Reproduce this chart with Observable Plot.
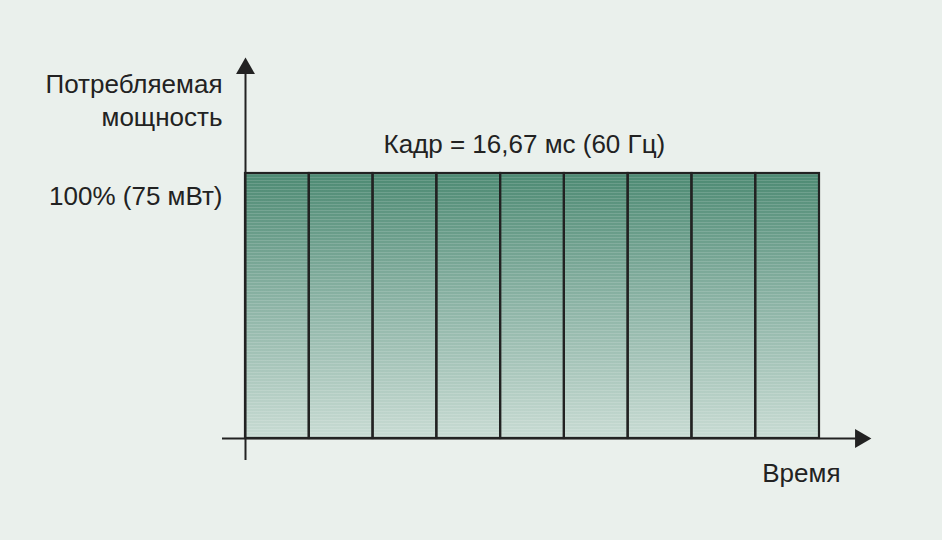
<!DOCTYPE html>
<html>
<head>
<meta charset="utf-8">
<script src="https://cdn.jsdelivr.net/npm/d3@7"></script>
<script src="https://cdn.jsdelivr.net/npm/@observablehq/plot@0.6"></script>
<style>
  html, body { margin: 0; padding: 0; background: #eaf0ec; }
  #chart { width: 942px; height: 540px; }
</style>
</head>
<body>
<div id="chart"></div>
<script>
// ---- data ----
const frameIndex = [0, 1, 2, 3, 4, 5, 6, 7, 8];
const powerPct = [100, 100, 100, 100, 100, 100, 100, 100, 100];
const yTickValues = [100];
const yTickLabels = ["100% (75 мВт)"];
const titleText = "Кадр = 16,67 мс (60 Гц)";
const yLabelText = "Потребляемая\nмощность";
const xLabelText = "Время";

const frames = frameIndex.map((f, k) => ({x1: f, x2: f + 1, y: powerPct[k]}));
const ticks = yTickValues.map((v, k) => ({y: v, label: yTickLabels[k]}));

const ink = "#222222";
const fs = 26;

const chart = Plot.plot({
  width: 942,
  height: 540,
  marginTop: 68,
  marginBottom: 80,
  marginLeft: 222,
  marginRight: 82,
  style: {background: "#eaf0ec", fontFamily: "'Liberation Sans', Arial, sans-serif", fontSize: fs + "px", color: ink},
  x: {domain: [0, frameIndex.length], range: [245, 819], axis: null},
  y: {domain: [0, 100], range: [438, 173], axis: null},
  marks: [
    Plot.rectY(frames, {x1: "x1", x2: "x2", y: "y", fill: "url(#powerGrad)", insetLeft: 0, insetRight: 0}),
    Plot.rectY(frames, {x1: "x1", x2: "x2", y: "y", fill: "url(#stripes)"}),
    Plot.rectY(frames, {x1: "x1", x2: "x2", y: "y", fill: "none", stroke: ink, strokeWidth: 2.2}),
    Plot.ruleX([0], {stroke: ink, strokeWidth: 2}),
    Plot.ruleY([0], {stroke: ink, strokeWidth: 2}),
    Plot.dot([0], {x: d => d, frameAnchor: "top", symbol: "triangle", r: 7, fill: ink, stroke: "none"}),
    Plot.dot([0], {y: d => d, frameAnchor: "right", symbol: "triangle", rotate: 90, r: 7, fill: ink, stroke: "none"}),
    Plot.text(ticks, {y: "y", text: "label", frameAnchor: "left", textAnchor: "end", lineAnchor: "top", dy: 13.5, fill: ink}),
    Plot.text([yLabelText], {text: d => d, frameAnchor: "top-left", textAnchor: "end", lineAnchor: "top", lineHeight: 1.27, dy: 1.5, fill: ink}),
    Plot.text([titleText], {text: d => d, frameAnchor: "top-left", textAnchor: "start", lineAnchor: "top", dx: 161, dy: 66.5, fill: ink}),
    Plot.text([xLabelText], {text: d => d, frameAnchor: "bottom-right", textAnchor: "end", lineAnchor: "top", dx: -20, dy: 3.5, fill: ink})
  ]
});

const svg = d3.select(chart.tagName.toLowerCase() === "svg" ? chart : chart.querySelector("svg"));
const defs = svg.insert("defs", ":first-child");
const grad = defs.append("linearGradient").attr("id", "powerGrad")
  .attr("x1", 0).attr("y1", 0).attr("x2", 0).attr("y2", 1);
grad.append("stop").attr("offset", "0%").attr("stop-color", "#4d8a73");
grad.append("stop").attr("offset", "50%").attr("stop-color", "#8db4a6");
grad.append("stop").attr("offset", "100%").attr("stop-color", "#c8dbd3");
const pat = defs.append("pattern").attr("id", "stripes")
  .attr("patternUnits", "userSpaceOnUse").attr("width", 8).attr("height", 3);
pat.append("rect").attr("x", 0).attr("y", 0).attr("width", 8).attr("height", 1)
  .attr("fill", "#ffffff").attr("fill-opacity", 0.14);

document.getElementById("chart").appendChild(chart);
</script>
</body>
</html>
